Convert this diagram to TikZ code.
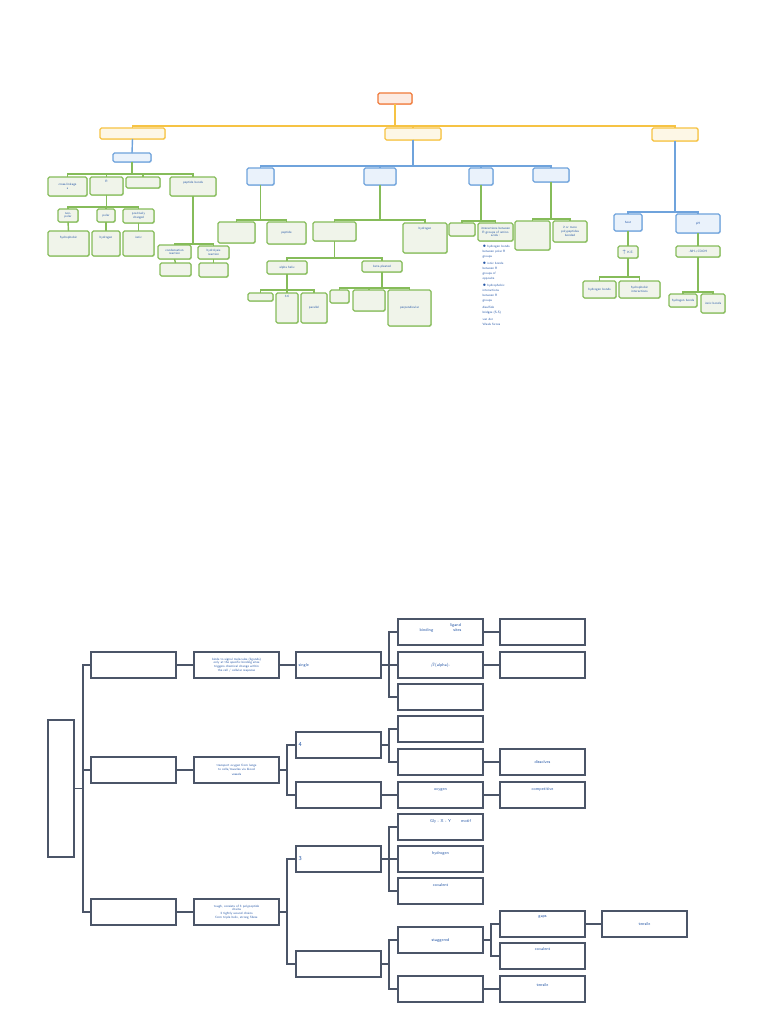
\documentclass[tikz,border=0pt]{standalone}
\usetikzlibrary{calc, shadows}
\definecolor{orangecol}{HTML}{F07A3A}
\definecolor{orangefill}{HTML}{FCEBE2}
\definecolor{yellowcol}{HTML}{F6C344}
\definecolor{yellowfill}{HTML}{FDF7E6}
\definecolor{bluecol}{HTML}{6FA3DC}
\definecolor{bluefill}{HTML}{EAF2FB}
\definecolor{greencol}{HTML}{86BC5A}
\definecolor{greenfill}{HTML}{F0F4EA}
\definecolor{treecol}{HTML}{4B5568}
\definecolor{inkcol}{HTML}{2456A6}

\begin{document}
\begin{tikzpicture}[
    x=1pt, y=-1pt,
    every node/.style={font=\sffamily},
    sz/.style 2 args={minimum width=#1, minimum height=#2},
    hand/.style={font=\sffamily\fontsize{3.2}{3.8}\selectfont, text=inkcol, align=center},
    handlg/.style={font=\sffamily\fontsize{4.2}{4.8}\selectfont, text=inkcol, align=center},
    orbox/.style={
        draw=orangecol, fill=orangefill, rounded corners=1.5pt, line width=1.4pt,
        inner sep=0pt, outer sep=0pt,
        drop shadow={shadow xshift=0.8pt, shadow yshift=-0.8pt, fill=orangecol, opacity=0.35},
    },
    ylbox/.style={
        draw=yellowcol, fill=yellowfill, rounded corners=1.5pt, line width=1.4pt,
        inner sep=0pt, outer sep=0pt,
        drop shadow={shadow xshift=0.8pt, shadow yshift=-0.8pt, fill=yellowcol, opacity=0.35},
    },
    blbox/.style={
        draw=bluecol, fill=bluefill, rounded corners=1.5pt, line width=1.3pt,
        inner sep=0pt, outer sep=0pt,
        drop shadow={shadow xshift=0.8pt, shadow yshift=-0.8pt, fill=bluecol, opacity=0.4},
    },
    grbox/.style={
        draw=greencol, fill=greenfill, rounded corners=1.5pt, line width=1.3pt,
        inner sep=0.5pt, outer sep=0pt, hand,
        drop shadow={shadow xshift=0.8pt, shadow yshift=-0.8pt, fill=greencol, opacity=0.45},
    },
    tbox/.style={
        draw=treecol, fill=white, line width=1.3pt, inner sep=1pt, outer sep=0pt,
        minimum width=85pt, minimum height=26pt, handlg,
    },
    ylline/.style={draw=yellowcol, line width=1.4pt},
    blline/.style={draw=bluecol, line width=1.4pt},
    grline/.style={draw=greencol, line width=1.4pt},
    tline/.style={draw=treecol, line width=1.3pt},
]
\useasboundingbox (0,0) rectangle (768,1024);

% === Mind map (top) ===
\node[orbox, sz={34}{11}] (topic) at (395,98.5) {};

\node[ylbox, sz={65}{11}] (structure) at (132.5,133.5) {};
\node[ylbox, sz={56}{12}] (levels) at (413,134) {};
\node[ylbox, sz={46}{13}] (denature) at (675,134.5) {};

\draw[ylline] (topic.south) -- ++(0,22) -| (structure.north);
\draw[ylline] (topic.south) -- ++(0,22) -| (levels.north);
\draw[ylline] (topic.south) -- ++(0,22) -| (denature.north);

% amino acids branch
\node[blbox, sz={38}{9}] (amino) at (132,157.5) {};
\draw[blline] (structure.south) -- (amino.north);

\node[grbox, sz={39}{19}] (crosslink) at (67.5,186.5) {cross-linkage\\s};
\node[grbox, sz={33}{18}] (rgroup) at (106.5,186) {R\\[5pt]};
\node[grbox, sz={34}{11}] (amine) at (143,182.5) {};
\node[grbox, sz={46}{19}] (peptidebond) at (193,186.5) {peptide bonds\\[5pt]};
\foreach \n in {crosslink, rgroup, amine, peptidebond}
    \draw[grline] (amino.south) -- ++(0,12) -| (\n.north);

\node[grbox, sz={20}{13}] (nonpolar) at (68,215.5) {non-\\polar};
\node[grbox, sz={18}{13}] (polar) at (106,215.5) {polar};
\node[grbox, sz={31}{14}] (charged) at (138.5,216) {positively\\charged};
\foreach \n in {nonpolar, polar, charged}
    \draw[grline] (rgroup.south) -- ++(0,12) -| (\n.north);

\node[grbox, sz={41}{25}] (hydrophobic) at (68.5,243.5) {hydrophobic\\[8pt]};
\node[grbox, sz={28}{25}] (hbond) at (106,243.5) {hydrogen\\[8pt]};
\node[grbox, sz={31}{25}] (ionic) at (138.5,243.5) {ionic\\[8pt]};
\draw[grline] (nonpolar.south) -- (hydrophobic.north);
\draw[grline] (polar.south) -- (hbond.north);
\draw[grline] (charged.south) -- (ionic.north);

\node[grbox, sz={33}{14}] (condense) at (174.5,252) {condensation\\reaction};
\node[grbox, sz={31}{13}] (hydrolysis) at (213.5,252.5) {hydrolysis\\reaction};
\foreach \n in {condense, hydrolysis}
    \draw[grline] (peptidebond.south) -- ++(0,48) -| (\n.north);
\node[grbox, sz={31}{13}] (condenseb) at (175.5,269.5) {};
\node[grbox, sz={29}{14}] (hydrolysisb) at (213.5,270) {};
\draw[grline] (condense.south) -- (condenseb.north);
\draw[grline] (hydrolysis.south) -- (hydrolysisb.north);

% levels of structure branch
\node[blbox, sz={27}{17}] (primary) at (260.5,176.5) {};
\node[blbox, sz={32}{17}] (secondary) at (380,176.5) {};
\node[blbox, sz={24}{17}] (tertiary) at (481,176.5) {};
\node[blbox, sz={36}{14}] (quaternary) at (551,175) {};
\foreach \n in {primary, secondary, tertiary, quaternary}
    \draw[blline] (levels.south) -- ++(0,26) -| (\n.north);

\node[grbox, sz={37}{21}] (sequence) at (236.5,232.5) {};
\node[grbox, sz={39}{22}] (peptide) at (286.5,233) {peptide};
\foreach \n in {sequence, peptide}
    \draw[grline] (primary.south) -- ++(0,35) -| (\n.north);

\node[grbox, sz={43}{19}] (shapes) at (334.5,231.5) {};
\node[grbox, sz={44}{30}] (hydrogen) at (425,238) {hydrogen\\[16pt]};
\foreach \n in {shapes, hydrogen}
    \draw[grline] (secondary.south) -- ++(0,35) -| (\n.north);

\node[grbox, sz={40}{13}] (alpha) at (287,267.5) {alpha helix};
\node[grbox, sz={40}{11}] (beta) at (382,266.5) {beta pleated};
\foreach \n in {alpha, beta}
    \draw[grline] (shapes.south) -- ++(0,17) -| (\n.north);

\node[grbox, sz={25}{8}] (alphaa) at (260.5,297) {};
\node[grbox, sz={22}{30}] (turns) at (287,308) {3.6\\[20pt]};
\node[grbox, sz={26}{30}] (parallel) at (314,308) {parallel};
\foreach \n in {alphaa, turns, parallel}
    \draw[grline] (alpha.south) -- ++(0,16) -| (\n.north);

\node[grbox, sz={19}{13}] (betaa) at (339.5,296.5) {};
\node[grbox, sz={32}{21}] (betab) at (369,300.5) {};
\node[grbox, sz={43}{36}] (perp) at (409.5,308) {perpendicular};
\foreach \n in {betaa, betab, perp}
    \draw[grline] (beta.south) -- ++(0,16) -| (\n.north);

\node[grbox, sz={26}{13}] (fold) at (462,229.5) {};
\node[grbox, sz={35}{18}] (rinteract) at (495.5,232) {interactions between\\R groups of amino\\acids :};
\foreach \n in {fold, rinteract}
    \draw[grline] (tertiary.south) -- ++(0,36) -| (\n.north);
\node[hand, anchor=north west, align=left, text width=38pt,
      font=\sffamily\fontsize{3.2}{5}\selectfont] (bondlist) at (479,242) {
    $\bullet$ hydrogen bonds\\ between polar R\\ groups\\[2pt]
    $\bullet$ ionic bonds\\ between R\\ groups of\\ opposite\\[2pt]
    $\bullet$ hydrophobic\\ interactions\\ between R\\ groups\\[2pt]
    disulfide\\ bridges (S-S)\\[2pt]
    van der\\ Waals forces
};

\node[grbox, sz={35}{29}] (subunit) at (532.5,235.5) {};
\node[grbox, sz={34}{21}] (chains) at (570,231.5) {2 or more\\polypeptides\\bonded};
\foreach \n in {subunit, chains}
    \draw[grline] (quaternary.south) -- ++(0,37) -| (\n.north);

% denaturation branch
\node[blbox, sz={28}{17}, hand] (heat) at (628,222.5) {heat};
\node[blbox, sz={44}{19}, hand] (ph) at (698,223.5) {pH};
\foreach \n in {heat, ph}
    \draw[blline] (denature.south) -- ++(0,71) -| (\n.north);

\node[grbox, sz={20}{12}] (kinetic) at (628,252) {$\uparrow$ K.E.};
\draw[grline] (heat.south) -- (kinetic.north);
\node[grbox, sz={33}{17}] (heathb) at (599.5,289.5) {hydrogen bonds};
\node[grbox, sz={41}{17}] (heathi) at (639.5,289.5) {hydrophobic\\interactions};
\foreach \n in {heathb, heathi}
    \draw[grline] (kinetic.south) -- ++(0,19) -| (\n.north);

\node[grbox, sz={44}{11}] (charge) at (698,251.5) {-NH+COOH};
\draw[grline] (ph.south) -- (charge.north);
\node[grbox, sz={28}{13}] (phhb) at (683,300.5) {hydrogen bonds};
\node[grbox, sz={24}{19}] (phionic) at (713,303.5) {ionic bonds};
\foreach \n in {phhb, phionic}
    \draw[grline] (charge.south) -- ++(0,35) -| (\n.north);

% === Protein function tree (bottom) ===
\node[tbox, sz={26}{137}] (protein) at (61,788.5) {};

\node[tbox] (receptor) at (133.5,665) {};
\node[tbox] (haemo) at (133.5,770) {};
\node[tbox] (collagen) at (133.5,912) {};
\foreach \n in {receptor, haemo, collagen}
    \draw[tline] (protein.east) -- ++(9,0) |- (\n.west);

\node[tbox, hand] (recfn) at (236.5,665) {binds to signal molecules (ligands)\\only at the specific binding sites\\triggers chemical change within\\the cell / cellular response};
\node[tbox, hand] (haefn) at (236.5,770) {transport oxygen from lungs\\to cells/muscles via blood\\[2pt]vessels};
\node[tbox, hand] (colfn) at (236.5,912) {tough, consists of 3 polypeptide\\chains\\3 tightly wound chains\\form triple helix, strong fibres};
\draw[tline] (receptor.east) -- (recfn.west);
\draw[tline] (haemo.east) -- (haefn.west);
\draw[tline] (collagen.east) -- (colfn.west);

\node[tbox, text width=80pt, align=left] (single) at (338.5,665) {single\\[8pt]};
\node[tbox, text width=80pt, align=left] (subunits) at (338.5,745) {{\fontsize{6}{6}\selectfont 4}\\[8pt]};
\node[tbox] (haem) at (338.5,795) {};
\draw[tline] (recfn.east) -- (single.west);
\draw[tline] (haefn.east) -- ++(8,0) |- (subunits.west);
\draw[tline] (haefn.east) -- ++(8,0) |- (haem.west);

\node[tbox, text width=80pt, align=left] (triple) at (338.5,859) {{\fontsize{6}{6}\selectfont 3}\\[8pt]};
\node[tbox] (fibres) at (338.5,964) {};
\draw[tline] (colfn.east) -- ++(8,0) |- (triple.west);
\draw[tline] (colfn.east) -- ++(8,0) |- (fibres.west);

\node[tbox] (sites) at (440.5,632) {\hspace{30pt}ligand\\binding\hspace{20pt}sites\\[4pt]};
\node[tbox] (alphatype) at (440.5,665) {$\beta$(alpha)-};
\node[tbox] (recc) at (440.5,697) {};
\foreach \n in {sites, alphatype, recc}
    \draw[tline] (single.east) -- ++(8,0) |- (\n.west);

\node[tbox] (haema) at (440.5,729) {};
\node[tbox] (haemb) at (440.5,762) {};
\foreach \n in {haema, haemb}
    \draw[tline] (subunits.east) -- ++(8,0) |- (\n.west);
\node[tbox] (oxygen) at (440.5,795) {oxygen\\[6pt]};
\draw[tline] (haem.east) -- (oxygen.west);

\node[tbox] (motif) at (440.5,827) {\hspace{20pt}Gly - X - Y\hspace{10pt}motif\\[8pt]};
\node[tbox] (colhb) at (440.5,859) {hydrogen\\[8pt]};
\node[tbox] (colcov) at (440.5,891) {covalent\\[8pt]};
\foreach \n in {motif, colhb, colcov}
    \draw[tline] (triple.east) -- ++(8,0) |- (\n.west);

\node[tbox] (stagger) at (440.5,940) {staggered};
\node[tbox] (fibreb) at (440.5,989) {};
\foreach \n in {stagger, fibreb}
    \draw[tline] (fibres.east) -- ++(8,0) |- (\n.west);

\node[tbox] (sitesb) at (542.5,632) {};
\node[tbox] (alphab) at (542.5,665) {};
\node[tbox] (dissolve) at (542.5,762) {dissolves};
\node[tbox] (compete) at (542.5,795) {competitive\\[6pt]};
\draw[tline] (sites.east) -- (sitesb.west);
\draw[tline] (alphatype.east) -- (alphab.west);
\draw[tline] (haemb.east) -- (dissolve.west);
\draw[tline] (oxygen.east) -- (compete.west);

\node[tbox] (gaps) at (542.5,924) {gaps\\[10pt]};
\node[tbox] (crossb) at (542.5,956) {covalent\\[10pt]};
\foreach \n in {gaps, crossb}
    \draw[tline] (stagger.east) -- ++(8,0) |- (\n.west);
\node[tbox] (tensile) at (542.5,989) {tensile\\[4pt]};
\draw[tline] (fibreb.east) -- (tensile.west);

\node[tbox] (strength) at (644.5,924) {tensile};
\draw[tline] (gaps.east) -- (strength.west);

\end{tikzpicture}
\end{document}
